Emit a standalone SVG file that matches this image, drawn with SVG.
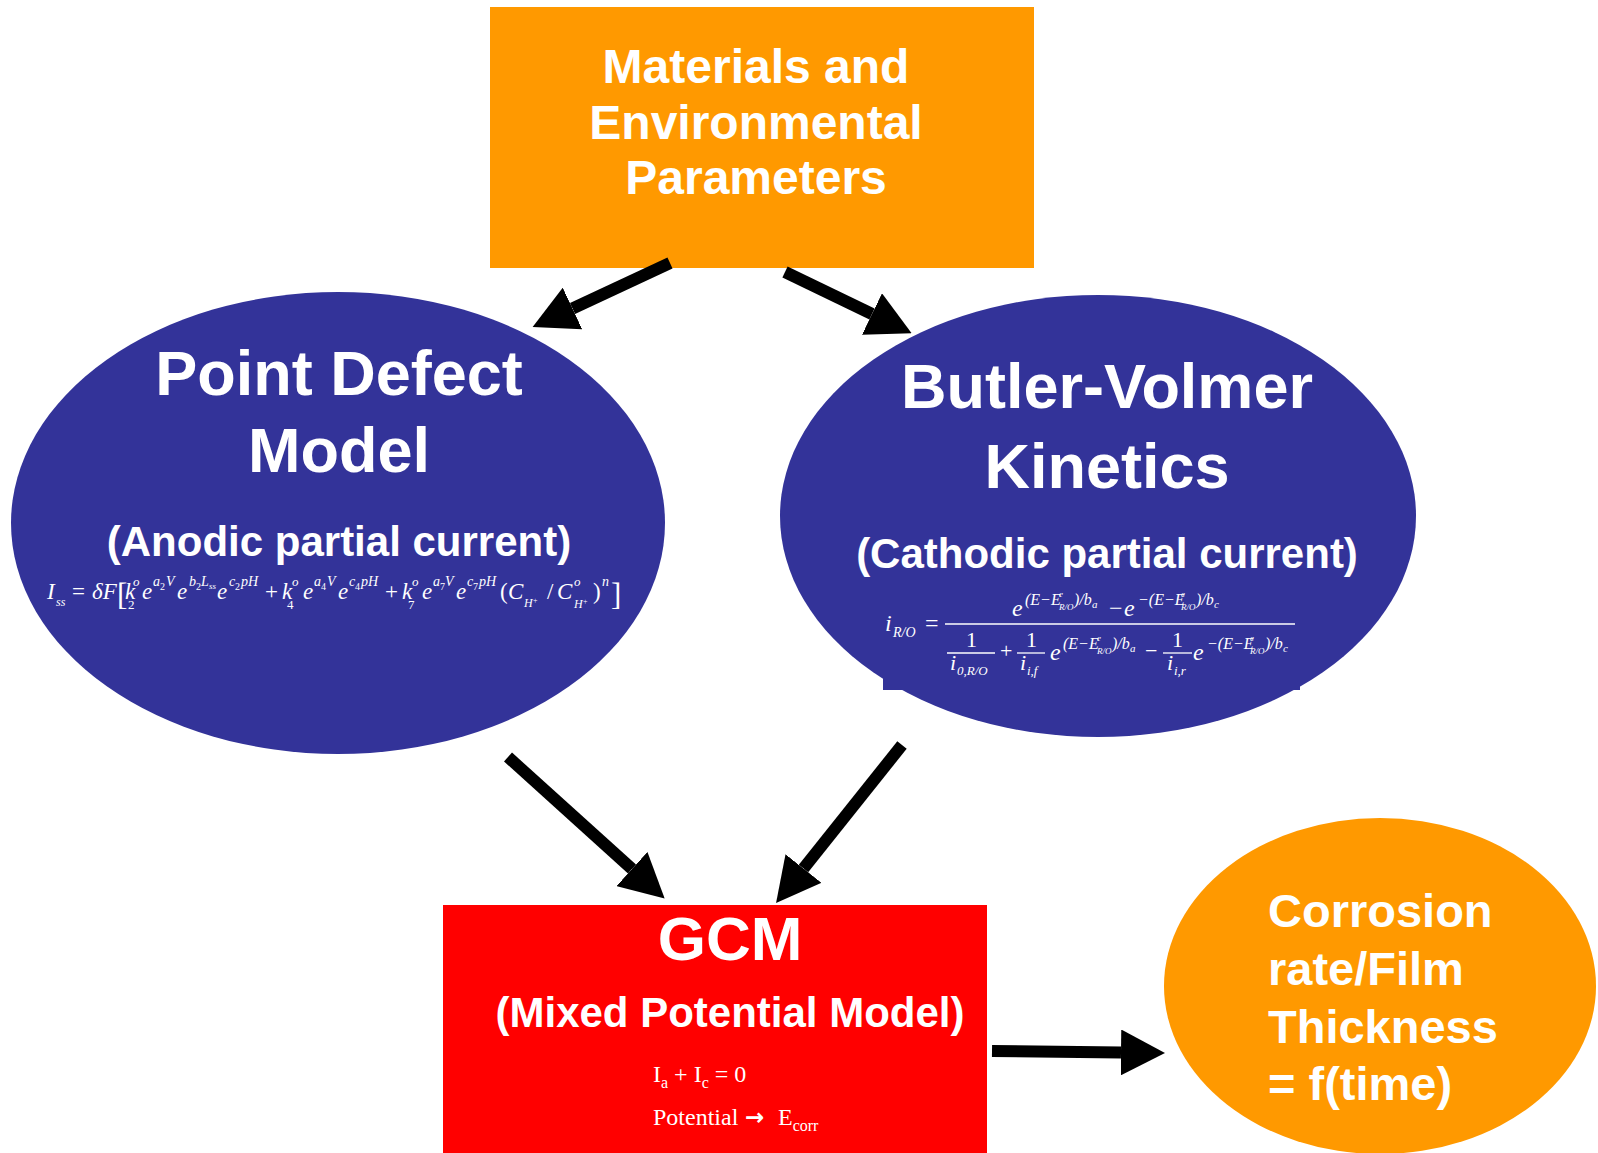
<svg xmlns="http://www.w3.org/2000/svg" width="1598" height="1153" viewBox="0 0 1598 1153">
<defs>
<style>
.t{font-family:"Liberation Sans",Arial,sans-serif;font-weight:bold;fill:#fff}
.m{font-family:"Liberation Serif","Times New Roman",serif;fill:#fff;font-style:italic}
.n{font-style:normal}
.conn{stroke:#000;stroke-width:12;fill:none;marker-end:url(#ah)}
.fb{stroke:#fff;stroke-width:1.3}
</style>
<marker id="ah" markerUnits="userSpaceOnUse" viewBox="0 0 44 46" markerWidth="44" markerHeight="46" refX="0" refY="23" orient="auto">
<path d="M0,0 L44,23 L0,46 Z" fill="#000"/>
</marker>
</defs>
<rect width="1598" height="1153" fill="#fff"/>

<g id="params">
<rect x="490" y="7" width="544" height="261" fill="#FF9900"/>
<text class="t" font-size="48" text-anchor="middle"><tspan x="756" y="83">Materials and</tspan><tspan x="756" y="139">Environmental</tspan><tspan x="756" y="194">Parameters</tspan></text>
</g>

<g id="pdm">
<ellipse cx="338" cy="523" rx="327" ry="231" fill="#333399"/>
<text class="t" font-size="63" text-anchor="middle"><tspan x="339" y="395">Point Defect</tspan><tspan x="339" y="472">Model</tspan></text>
<text class="t" font-size="42" text-anchor="middle" x="339" y="556">(Anodic partial current)</text>
<text class="m" font-size="23">
<tspan x="47" y="599">I</tspan><tspan x="56" y="606" font-size="12">ss</tspan>
<tspan x="72" y="599" class="n">=</tspan>
<tspan x="92" y="599">δF</tspan>
<tspan x="117" y="605" font-size="31" class="n">[</tspan>
<tspan x="125" y="599">k</tspan><tspan x="128" y="609" font-size="13" class="n">2</tspan><tspan x="133" y="586" font-size="13">o</tspan>
<tspan x="142" y="599">e</tspan><tspan x="153" y="586" font-size="14">a</tspan><tspan x="160" y="590" font-size="10" class="n">2</tspan><tspan x="166" y="586" font-size="14">V</tspan>
<tspan x="177" y="599">e</tspan><tspan x="189" y="586" font-size="14">b</tspan><tspan x="196" y="590" font-size="10" class="n">2</tspan><tspan x="201" y="586" font-size="14">L</tspan><tspan x="209" y="589" font-size="9">ss</tspan>
<tspan x="217" y="599">e</tspan><tspan x="229" y="586" font-size="14">c</tspan><tspan x="235" y="590" font-size="10" class="n">2</tspan><tspan x="241" y="586" font-size="14">pH</tspan>
<tspan x="265" y="599" class="n">+</tspan>
<tspan x="282" y="599">k</tspan><tspan x="287" y="609" font-size="13" class="n">4</tspan><tspan x="292" y="586" font-size="13">o</tspan>
<tspan x="303" y="599">e</tspan><tspan x="314" y="586" font-size="14">a</tspan><tspan x="321" y="590" font-size="10" class="n">4</tspan><tspan x="327" y="586" font-size="14">V</tspan>
<tspan x="338" y="599">e</tspan><tspan x="349" y="586" font-size="14">c</tspan><tspan x="355" y="590" font-size="10" class="n">4</tspan><tspan x="361" y="586" font-size="14">pH</tspan>
<tspan x="385" y="599" class="n">+</tspan>
<tspan x="402" y="599">k</tspan><tspan x="408" y="609" font-size="13" class="n">7</tspan><tspan x="412" y="586" font-size="13">o</tspan>
<tspan x="422" y="599">e</tspan><tspan x="433" y="586" font-size="14">a</tspan><tspan x="440" y="590" font-size="10" class="n">7</tspan><tspan x="445" y="586" font-size="14">V</tspan>
<tspan x="456" y="599">e</tspan><tspan x="467" y="586" font-size="14">c</tspan><tspan x="473" y="590" font-size="10" class="n">7</tspan><tspan x="479" y="586" font-size="14">pH</tspan>
<tspan x="500" y="599" class="n">(</tspan><tspan x="508" y="599">C</tspan><tspan x="524" y="607" font-size="12">H</tspan><tspan x="533" y="603" font-size="8" class="n">+</tspan>
<tspan x="547" y="599" class="n">/</tspan>
<tspan x="557" y="599">C</tspan><tspan x="574" y="586" font-size="13">o</tspan><tspan x="574" y="608" font-size="12">H</tspan><tspan x="583" y="604" font-size="8" class="n">+</tspan>
<tspan x="593" y="599" class="n">)</tspan><tspan x="602" y="586" font-size="14">n</tspan>
<tspan x="611" y="605" font-size="31" class="n">]</tspan>
</text>
</g>

<g id="bv">
<ellipse cx="1098" cy="516" rx="318" ry="221" fill="#333399"/>
<rect x="883" y="575" width="417" height="115" fill="#333399"/>
<text class="t" font-size="63" text-anchor="middle"><tspan x="1107" y="408">Butler-Volmer</tspan><tspan x="1107" y="488">Kinetics</tspan></text>
<text class="t" font-size="42" text-anchor="middle" x="1107" y="568">(Cathodic partial current)</text>
<line class="fb" x1="945" y1="624" x2="1295" y2="624"/>
<line class="fb" x1="947" y1="653" x2="995" y2="653"/>
<line class="fb" x1="1017" y1="653" x2="1045" y2="653"/>
<line class="fb" x1="1163" y1="653" x2="1192" y2="653"/>
<text class="m" font-size="24">
<tspan x="885" y="631">i</tspan><tspan x="893" y="637" font-size="14">R/O</tspan>
<tspan x="925" y="631" class="n">=</tspan>
<tspan x="1012" y="616">e</tspan><tspan x="1025" y="605" font-size="16">(E−E</tspan><tspan x="1059" y="597" font-size="9">e</tspan><tspan x="1059" y="610" font-size="9">R/O</tspan><tspan x="1074" y="605" font-size="16">)/b</tspan><tspan x="1092" y="608" font-size="11">a</tspan>
<tspan x="1109" y="616" class="n">−</tspan>
<tspan x="1124" y="616">e</tspan><tspan x="1138" y="605" font-size="16">−(E−E</tspan><tspan x="1181" y="597" font-size="9">e</tspan><tspan x="1181" y="610" font-size="9">R/O</tspan><tspan x="1196" y="605" font-size="16">)/b</tspan><tspan x="1214" y="608" font-size="11">c</tspan>
<tspan x="966" y="647" font-size="22" class="n">1</tspan>
<tspan x="950" y="670" font-size="22">i</tspan><tspan x="957" y="675" font-size="13">0,R/O</tspan>
<tspan x="1000" y="658" font-size="22" class="n">+</tspan>
<tspan x="1026" y="647" font-size="22" class="n">1</tspan>
<tspan x="1020" y="670" font-size="22">i</tspan><tspan x="1027" y="675" font-size="13">i,f</tspan>
<tspan x="1050" y="660">e</tspan><tspan x="1063" y="649" font-size="16">(E−E</tspan><tspan x="1097" y="641" font-size="9">e</tspan><tspan x="1097" y="654" font-size="9">R/O</tspan><tspan x="1112" y="649" font-size="16">)/b</tspan><tspan x="1130" y="652" font-size="11">a</tspan>
<tspan x="1145" y="658" font-size="22" class="n">−</tspan>
<tspan x="1172" y="647" font-size="22" class="n">1</tspan>
<tspan x="1167" y="670" font-size="22">i</tspan><tspan x="1174" y="675" font-size="13">i,r</tspan>
<tspan x="1193" y="660">e</tspan><tspan x="1207" y="649" font-size="16">−(E−E</tspan><tspan x="1250" y="641" font-size="9">e</tspan><tspan x="1250" y="654" font-size="9">R/O</tspan><tspan x="1265" y="649" font-size="16">)/b</tspan><tspan x="1283" y="652" font-size="11">c</tspan>
</text>
</g>

<g id="gcm">
<rect x="443" y="905" width="544" height="248" fill="#FF0000"/>
<text class="t" font-size="62" text-anchor="middle" x="730" y="960">GCM</text>
<text class="t" font-size="42" text-anchor="middle" x="730" y="1027">(Mixed Potential Model)</text>
<text class="m n" font-size="24" x="653" y="1082">I<tspan dy="6" font-size="16">a</tspan><tspan dy="-6"> + I</tspan><tspan dy="6" font-size="16">c</tspan><tspan dy="-6"> = 0</tspan></text>
<text class="m n" font-size="24" x="653" y="1125">Potential<tspan x="745" font-family="DejaVu Sans,sans-serif" font-weight="bold" font-size="23">→</tspan><tspan x="778">E</tspan><tspan dy="6" font-size="16">corr</tspan></text>
</g>

<g id="corrosion">
<ellipse cx="1380" cy="986" rx="216" ry="168" fill="#FF9900"/>
<text class="t" font-size="47"><tspan x="1268" y="927">Corrosion</tspan><tspan x="1268" y="985">rate/Film</tspan><tspan x="1268" y="1043">Thickness</tspan><tspan x="1268" y="1100">= f(time)</tspan></text>
</g>

<g id="connectors">
<path class="conn" d="M670,263 L572.5,308.5"/>
<path class="conn" d="M785,272 L872,314"/>
<path class="conn" d="M508,757 L632,869"/>
<path class="conn" d="M902,745 L803.5,868.5"/>
<path class="conn" d="M992,1051 L1121,1052.5"/>
</g>
</svg>
